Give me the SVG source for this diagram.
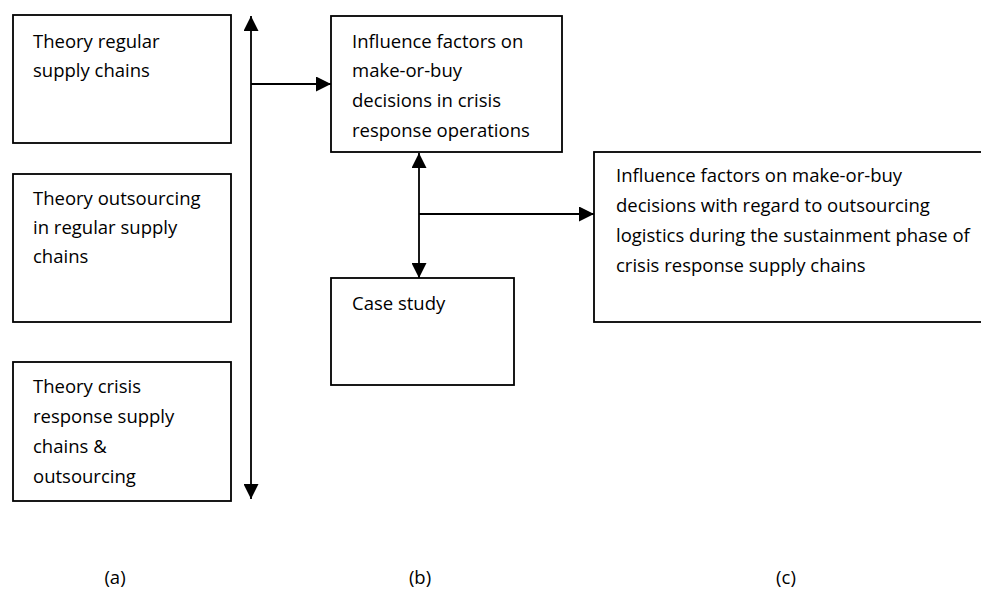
<svg xmlns="http://www.w3.org/2000/svg" width="981" height="590" viewBox="0 0 981 590">
<style>
.box{fill:#fff;stroke:#000;stroke-width:1.8}
.t{font-family:"Open Sans","Liberation Sans",sans-serif;font-size:18.5px;fill:#000}
.c{stroke:#000;stroke-width:1.8;fill:none}
</style>
<defs>
<marker id="ah" viewBox="0 0 15 15" refX="15" refY="7.5" markerWidth="15" markerHeight="15" markerUnits="userSpaceOnUse" orient="auto-start-reverse">
<path d="M0,0 L15,7.5 L0,15 Z" fill="#000"/>
</marker>
</defs>
<rect width="981" height="590" fill="#fff"/>
<g id="connectors">
<line class="c" x1="251" y1="16" x2="251" y2="499" marker-start="url(#ah)" marker-end="url(#ah)"/>
<line class="c" x1="251" y1="84" x2="331" y2="84" marker-end="url(#ah)"/>
<line class="c" x1="419" y1="153" x2="419" y2="278" marker-start="url(#ah)" marker-end="url(#ah)"/>
<line class="c" x1="419" y1="214" x2="594" y2="214" marker-end="url(#ah)"/>
</g>
<g id="n1"><rect class="box" x="13" y="15" width="218" height="128"/>
<text class="t" x="33" y="48">Theory regular</text><text class="t" x="33" y="77">supply chains</text></g>
<g id="n2"><rect class="box" x="13" y="174" width="218" height="148"/>
<text class="t" x="33" y="205">Theory outsourcing</text><text class="t" x="33" y="234">in regular supply</text><text class="t" x="33" y="263">chains</text></g>
<g id="n3"><rect class="box" x="13" y="362" width="218" height="139"/>
<text class="t" x="33" y="393">Theory crisis</text><text class="t" x="33" y="423">response supply</text><text class="t" x="33" y="453">chains &amp;</text><text class="t" x="33" y="483">outsourcing</text></g>
<g id="n4"><rect class="box" x="331" y="16" width="231" height="136"/>
<text class="t" x="352" y="47.5">Influence factors on</text><text class="t" x="352" y="77">make-or-buy</text><text class="t" x="352" y="107">decisions in crisis</text><text class="t" x="352" y="137">response operations</text></g>
<g id="n5"><rect class="box" x="331" y="278" width="183" height="107"/>
<text class="t" x="352" y="310">Case study</text></g>
<g id="n6"><rect class="box" x="594" y="152" width="395" height="170"/>
<text class="t" x="616" y="182">Influence factors on make-or-buy</text><text class="t" x="616" y="212">decisions with regard to outsourcing</text><text class="t" x="616" y="242">logistics during the sustainment phase of</text><text class="t" x="616" y="272">crisis response supply chains</text></g>
<g id="labels">
<text class="t" x="115" y="584" text-anchor="middle">(a)</text>
<text class="t" x="420" y="584" text-anchor="middle">(b)</text>
<text class="t" x="786" y="584" text-anchor="middle">(c)</text>
</g>
</svg>
